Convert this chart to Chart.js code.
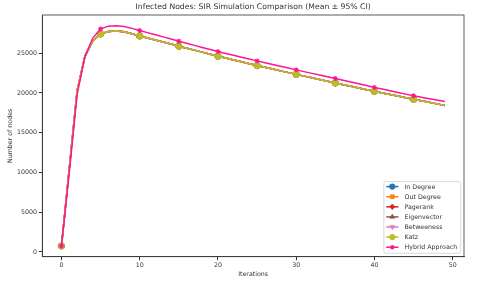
<!DOCTYPE html>
<html>
<head>
<meta charset="utf-8">
<script src="https://cdn.jsdelivr.net/npm/chart.js@4.4.1/dist/chart.umd.min.js"></script>
<style>
  html, body { margin: 0; padding: 0; background: #fff; }
  #chart { display: block; }
</style>
</head>
<body>
<canvas id="chart" width="480" height="282"></canvas>
<script>
// iterations 0..49
const iterations = [0,1,2,3,4,5,6,7,8,9,10,11,12,13,14,15,16,17,18,19,20,21,22,23,24,25,26,27,28,29,30,31,32,33,34,35,36,37,38,39,40,41,42,43,44,45,46,47,48,49];

// the six centrality strategies sit on top of each other in the plot
const centralityMean = [750,10500,20300,24600,26500,27420,27720,27780,27680,27440,27160,26900,26650,26400,26140,25880,25630,25380,25130,24870,24620,24380,24150,23910,23680,23440,23220,23000,22770,22550,22330,22110,21900,21680,21470,21250,21040,20830,20620,20410,20200,20000,19800,19600,19400,19200,19010,18820,18620,18420];
const inDegree = centralityMean;
const outDegree = centralityMean;
const pagerank = centralityMean;
const eigenvector = centralityMean;
const betweeness = centralityMean;
const katz = centralityMean;
const hybrid = [750,10000,19800,24600,26900,28050,28400,28450,28350,28120,27850,27580,27320,27050,26780,26500,26240,25980,25720,25460,25200,24960,24730,24490,24260,24030,23800,23580,23350,23130,22900,22680,22460,22250,22030,21810,21590,21370,21140,20920,20690,20480,20270,20060,19850,19640,19460,19280,19110,18930];

const xTicks = [0, 10, 20, 30, 40, 50];
const yTicks = [0, 5000, 10000, 15000, 20000, 25000];

const TITLE = 'Infected Nodes: SIR Simulation Comparison (Mean ± 95% CI)';
const FONT = 'DejaVu Sans';
const TXT = '#333';

function series(label, data, color, style, radius, order, rotation) {
    return {
        label: label,
        data: data.map((v, i) => ({ x: iterations[i], y: v })),
        borderColor: color,
        backgroundColor: color,
        borderWidth: 1.5,
        tension: 0.0,
        pointStyle: style,
        pointRotation: rotation || 0,
        pointRadius: ctx => (ctx.dataIndex % 5 === 0 ? radius : 0),
        pointBorderWidth: style === 'star' ? 1.1 : 0.6,
        pointHoverRadius: 0,
        order: order
    };
}

const datasets = [
    series('In Degree', inDegree, '#1f77b4', 'circle', 3.2, 6),
    series('Out Degree', outDegree, '#ff7f0e', 'rect', 3.2, 5),
    series('Pagerank', pagerank, '#d62728', 'rectRot', 3.6, 4),
    series('Eigenvector', eigenvector, '#8c564b', 'triangle', 3.4, 3),
    series('Betweeness', betweeness, '#e377c2', 'triangle', 3.4, 2, 180),
    series('Katz', katz, '#bcbd22', 'circle', 3.2, 1),
    series('Hybrid Approach', hybrid, '#ff1493', 'star', 2.5, 0)
];

// box round the axes and the title centred over them, as matplotlib does
const framePlugin = {
    id: 'frame',
    afterDraw(chart) {
        const a = chart.chartArea;
        const ctx = chart.ctx;
        ctx.save();
        ctx.strokeStyle = TXT;
        ctx.lineWidth = 0.8;
        ctx.strokeRect(a.left, a.top, a.right - a.left, a.bottom - a.top);
        ctx.fillStyle = TXT;
        ctx.font = '7.7px "' + FONT + '"';
        ctx.textAlign = 'center';
        ctx.textBaseline = 'middle';
        ctx.fillText(TITLE, (a.left + a.right) / 2, 7.5);
        ctx.restore();
    }
};

// legend in the lower right corner of the axes
const legendPlugin = {
    id: 'cornerLegend',
    afterDraw(chart) {
        const a = chart.chartArea;
        const ctx = chart.ctx;
        const sets = chart.data.datasets;
        ctx.save();
        ctx.font = '6.3px "' + FONT + '"';
        let maxW = 0;
        sets.forEach(d => { maxW = Math.max(maxW, ctx.measureText(d.label).width); });
        const rowH = 10.1;
        const w = 20.6 + maxW + 3.5;
        const h = rowH * sets.length + 1;
        const right = a.right - 3.3;
        const bottom = a.bottom - 3.4;
        const left = right - w;
        const top = bottom - h;
        ctx.fillStyle = 'rgba(255,255,255,0.85)';
        ctx.strokeStyle = '#d0d0d0';
        ctx.lineWidth = 0.8;
        ctx.beginPath();
        ctx.roundRect(left, top, w, h, 2);
        ctx.fill();
        ctx.stroke();
        sets.forEach((d, i) => {
            const cy = top + 5 + i * rowH;
            ctx.strokeStyle = d.borderColor;
            ctx.lineWidth = 1.5;
            ctx.beginPath();
            ctx.moveTo(left + 2.3, cy);
            ctx.lineTo(left + 14.6, cy);
            ctx.stroke();
            ctx.fillStyle = d.backgroundColor;
            ctx.lineWidth = d.pointStyle === 'star' ? 1.1 : 0.6;
            Chart.helpers.drawPoint(ctx, {
                pointStyle: d.pointStyle,
                rotation: d.pointRotation,
                radius: d.pointStyle === 'star' ? 2.3 : 2.8,
                borderWidth: ctx.lineWidth
            }, left + 8.4, cy);
            ctx.fillStyle = TXT;
            ctx.textBaseline = 'middle';
            ctx.textAlign = 'left';
            ctx.fillText(d.label, left + 20.6, cy + 0.3);
        });
        ctx.restore();
    }
};

new Chart(document.getElementById('chart').getContext('2d'), {
    type: 'line',
    data: { datasets: datasets },
    options: {
        responsive: false,
        animation: false,
        layout: { padding: { left: 0, right: 16, top: 15, bottom: 0 } },
        plugins: {
            legend: { display: false },
            tooltip: { enabled: false },
            title: { display: false }
        },
        scales: {
            x: {
                type: 'linear',
                min: -2.45,
                max: 51.45,
                afterBuildTicks: scale => { scale.ticks = xTicks.map(v => ({ value: v })); },
                afterFit: scale => { scale.height = 25.3; },
                ticks: {
                    color: TXT, font: { family: FONT, size: 6.3 }, padding: 1.5, maxRotation: 0,
                    callback: v => String(v)
                },
                grid: { drawOnChartArea: false, drawTicks: true, tickLength: 3.5, color: TXT },
                border: { color: TXT, width: 0.8 },
                title: {
                    display: true,
                    text: 'Iterations',
                    color: TXT,
                    font: { family: FONT, size: 6.3 },
                    padding: { top: 0, bottom: 4 }
                }
            },
            y: {
                min: -600,
                max: 29800,
                afterBuildTicks: scale => { scale.ticks = yTicks.map(v => ({ value: v })); },
                afterFit: scale => { scale.width = 42.3; },
                ticks: {
                    color: TXT, font: { family: FONT, size: 6.3 }, padding: 1.8,
                    callback: v => String(v)
                },
                grid: { drawOnChartArea: false, drawTicks: true, tickLength: 3.5, color: TXT },
                border: { color: TXT, width: 0.8 },
                title: {
                    display: true,
                    text: 'Number of nodes',
                    color: TXT,
                    font: { family: FONT, size: 6.3 },
                    padding: { top: 7, bottom: 0 }
                }
            }
        }
    },
    plugins: [framePlugin, legendPlugin]
});
</script>
</body>
</html>
